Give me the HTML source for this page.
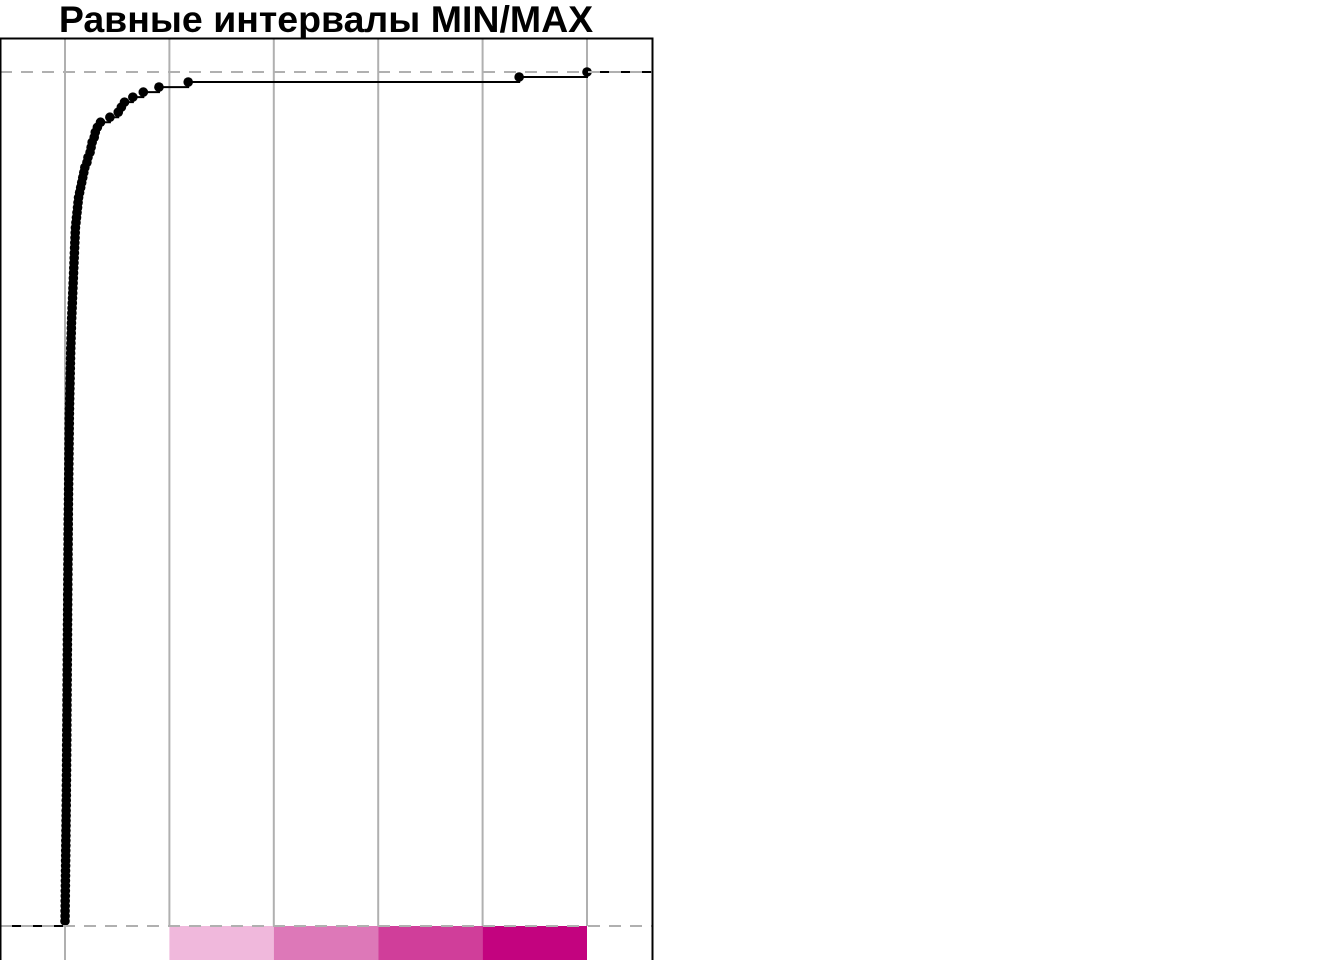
<!DOCTYPE html>
<html><head><meta charset="utf-8"><style>
html,body{margin:0;padding:0;background:#fff;width:1344px;height:960px;overflow:hidden}
svg{display:block}
</style></head><body>
<svg id="chart" width="1344" height="960" xmlns="http://www.w3.org/2000/svg">
<text x="326" y="32" text-anchor="middle" font-family="Liberation Sans, sans-serif" font-weight="bold" font-size="37.5">Равные интервалы MIN/MAX</text>
<g id="bands"></g>
<g id="grid"></g>
<g id="ecdf"></g>
<g id="refs"></g>
<rect x="0.5" y="38.5" width="652" height="930" fill="none" stroke="#000" stroke-width="2"/>
</svg>
<script>
const breaks = [0, 1, 2, 3, 4, 5];
const bandColors = ["#ffffff", "#f0b8dc", "#dd78b8", "#d03e9a", "#c3037f"];
const values = [
0,0.001,0.001,0.002,0.002,0.003,0.003,0.004,0.004,0.005,
0.005,0.006,0.006,0.007,0.007,0.008,0.008,0.009,0.009,0.010,
0.010,0.011,0.011,0.012,0.012,0.013,0.013,0.013,0.014,0.014,
0.015,0.015,0.015,0.016,0.016,0.016,0.017,0.017,0.017,0.018,
0.018,0.018,0.019,0.019,0.019,0.020,0.020,0.020,0.021,0.021,
0.021,0.022,0.022,0.022,0.023,0.023,0.023,0.024,0.024,0.024,
0.025,0.025,0.025,0.026,0.026,0.026,0.027,0.027,0.027,0.028,
0.028,0.028,0.029,0.029,0.029,0.030,0.030,0.030,0.031,0.031,
0.031,0.032,0.032,0.033,0.033,0.034,0.034,0.035,0.035,0.036,
0.036,0.037,0.037,0.038,0.038,0.039,0.039,0.040,0.040,0.041,
0.041,0.042,0.043,0.044,0.045,0.046,0.047,0.048,0.049,0.050,
0.051,0.052,0.053,0.054,0.055,0.057,0.058,0.060,0.061,0.062,
0.064,0.066,0.068,0.070,0.072,0.074,0.076,0.078,0.080,0.082,
0.084,0.086,0.088,0.090,0.092,0.094,0.096,0.098,0.100,0.105,
0.11,0.115,0.12,0.125,0.13,0.14,0.15,0.16,0.17,0.18,
0.19,0.21,0.22,0.24,0.25,0.26,0.28,0.29,0.31,0.34,
0.43,0.51,0.54,0.57,0.65,0.75,0.90,1.18,4.35,5.0];

const NS = "http://www.w3.org/2000/svg";
const X0 = 65, X1 = 587, Y0 = 926, Y1 = 72;
const xs = v => X0 + (v - breaks[0]) / (breaks[breaks.length-1] - breaks[0]) * (X1 - X0);
const ys = p => Y0 - p * (Y0 - Y1);
function mk(tag, attrs, parent){const e=document.createElementNS(NS,tag);for(const k in attrs)e.setAttribute(k,attrs[k]);parent.appendChild(e);return e;}

const bands = document.getElementById('bands');
let lb = mk('rect',{x:0.5,y:Y0,width:X0-0.5,height:40,fill:'#fff',stroke:'#000','stroke-width':2},bands);


for(let i=0;i<bandColors.length;i++){
  const r = mk('rect',{x:xs(breaks[i]),y:Y0,width:xs(breaks[i+1])-xs(breaks[i]),height:40,fill:bandColors[i]},bands);
  
  
}
const grid = document.getElementById('grid');
for(const b of breaks){
  const l = mk('line',{x1:xs(b),x2:xs(b),y1:38,y2:(b===breaks[0]?960:Y0),stroke:'#b0b0b0','stroke-width':2},grid);
  
  
}
const g = document.getElementById('ecdf');
const n = values.length;
let d = 'M0,'+ys(0)+' H'+xs(values[0]);
for(let i=0;i<n;i++){
  d += ' V'+ys((i+1)/n);
  d += ' H'+(i<n-1?xs(values[i+1]):653);
}
const path = mk('path',{d:d,fill:'none',stroke:'#000','stroke-width':2},g);


for(let i=0;i<n;i++){
  const c = mk('circle',{cx:xs(values[i]),cy:ys((i+1)/n),r:4.8,fill:'#000'},g);
  
  
}
const refs = document.getElementById('refs');
for(const p of [0,1]){
  const l = mk('line',{x1:0,x2:653,y1:ys(p),y2:ys(p),stroke:'#b0b0b0','stroke-width':2,'stroke-dasharray':'12,9'},refs);
  
  
}
</script>
</body></html>
